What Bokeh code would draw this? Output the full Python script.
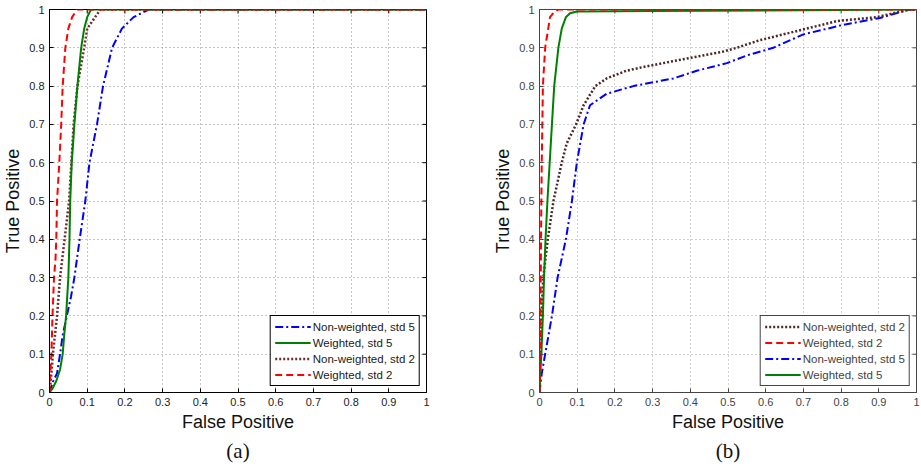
import math
from bokeh.plotting import figure
from bokeh.models import Range1d, FixedTicker, Legend, LegendItem
from bokeh.layouts import row
from bokeh.embed import file_html
from bokeh.resources import INLINE

tick_values = [0, 0.1, 0.2, 0.3, 0.4, 0.5, 0.6, 0.7, 0.8, 0.9, 1.0]
tick_labels = ["0", "0.1", "0.2", "0.3", "0.4", "0.5", "0.6", "0.7", "0.8", "0.9", "1"]

x_title = "False Positive"
y_title = "True Positive"

label_nw5 = "Non-weighted, std 5"
label_w5 = "Weighted, std 5"
label_nw2 = "Non-weighted, std 2"
label_w2 = "Weighted, std 2"

# ---- panel (a) ----
a_w2_fp = [0, 0.002, 0.005, 0.008, 0.012, 0.016, 0.018, 0.020, 0.026, 0.031, 0.035, 0.042, 0.050, 0.060, 0.073, 1.0]
a_w2_tp = [0, 0.05, 0.10, 0.20, 0.30, 0.35, 0.40, 0.50, 0.60, 0.70, 0.80, 0.90, 0.95, 0.98, 1.0, 1.0]

a_w5_fp = [0, 0.008, 0.018, 0.028, 0.035, 0.039, 0.044, 0.050, 0.053, 0.055, 0.059, 0.066, 0.074, 0.084, 0.092, 0.100, 0.110, 1.0]
a_w5_tp = [0, 0.01, 0.03, 0.06, 0.10, 0.15, 0.20, 0.30, 0.40, 0.50, 0.60, 0.70, 0.80, 0.90, 0.95, 0.98, 1.0, 1.0]

a_nw2_fp = [0, 0.003, 0.006, 0.009, 0.020, 0.028, 0.040, 0.052, 0.058, 0.064, 0.074, 0.092, 0.100, 0.121, 0.135, 1.0]
a_nw2_tp = [0, 0.03, 0.06, 0.10, 0.20, 0.30, 0.40, 0.50, 0.60, 0.70, 0.80, 0.90, 0.95, 0.98, 1.0, 1.0]

a_nw5_fp = [0, 0.010, 0.020, 0.028, 0.035, 0.046, 0.057, 0.066, 0.080, 0.095, 0.106, 0.126, 0.142, 0.166, 0.192, 0.223, 0.263, 1.0]
a_nw5_tp = [0, 0.03, 0.05, 0.10, 0.15, 0.20, 0.25, 0.30, 0.40, 0.50, 0.60, 0.70, 0.80, 0.90, 0.95, 0.98, 1.0, 1.0]

# ---- panel (b) ----
b_w2_fp = [0, 0.002, 0.003, 0.004, 0.006, 0.009, 0.015, 0.028, 0.040, 0.050, 0.10, 1.0]
b_w2_tp = [0, 0.10, 0.25, 0.40, 0.60, 0.80, 0.90, 0.98, 0.995, 1.0, 1.0, 1.0]

b_w5_fp = [0, 0.002, 0.005, 0.009, 0.012, 0.016, 0.021, 0.027, 0.033, 0.039, 0.050, 0.059, 0.070, 0.081, 0.099, 0.30, 0.70, 1.0]
b_w5_tp = [0, 0.05, 0.10, 0.20, 0.30, 0.40, 0.50, 0.60, 0.70, 0.80, 0.90, 0.95, 0.98, 0.99, 0.995, 0.996, 0.998, 1.0]

b_nw2_fp = [0, 0.001, 0.002, 0.005, 0.010, 0.022, 0.037, 0.048, 0.059, 0.072, 0.097, 0.117, 0.148, 0.178, 0.230, 0.276, 0.380, 0.487, 0.523, 0.585, 0.708, 0.790, 0.894, 0.982, 1.0]
b_nw2_tp = [0, 0.05, 0.10, 0.20, 0.30, 0.40, 0.50, 0.55, 0.60, 0.65, 0.70, 0.75, 0.80, 0.82, 0.84, 0.85, 0.87, 0.89, 0.90, 0.92, 0.95, 0.97, 0.98, 1.0, 1.0]

b_nw5_fp = [0, 0.006, 0.015, 0.033, 0.048, 0.070, 0.086, 0.099, 0.117, 0.134, 0.178, 0.249, 0.355, 0.417, 0.497, 0.550, 0.620, 0.700, 0.806, 0.903, 0.982, 1.0]
b_nw5_tp = [0, 0.05, 0.10, 0.20, 0.30, 0.40, 0.50, 0.60, 0.70, 0.75, 0.78, 0.80, 0.82, 0.84, 0.86, 0.88, 0.90, 0.935, 0.96, 0.978, 1.0, 1.0]

SANS = "Liberation Sans"


def make_panel(caption, width, border_left, border_right, series, order, frame_color, grid_color,
               text_color, dotted_color):
    p = figure(width=width, height=471, output_backend="svg", toolbar_location=None,
               x_range=Range1d(0, 1), y_range=Range1d(0, 1),
               min_border_left=border_left, min_border_right=border_right,
               min_border_top=9, min_border_bottom=79,
               title=caption, title_location="below")
    p.title.align = "center"
    p.title.text_font = "Liberation Serif"
    p.title.text_font_size = "21px"
    p.title.text_font_style = "normal"
    p.title.text_color = "#111111"
    p.title.standoff = 5

    p.outline_line_color = frame_color
    p.outline_line_width = 1
    p.outline_line_alpha = 1
    p.background_fill_color = "white"
    p.border_fill_color = "white"

    for ax, ttl in ((p.xaxis[0], x_title), (p.yaxis[0], y_title)):
        ax.ticker = FixedTicker(ticks=tick_values)
        ax.major_label_overrides = {v: s for v, s in zip(tick_values, tick_labels)}
        ax.axis_label = ttl
        ax.axis_label_text_font = SANS
        ax.axis_label_text_font_size = "18px"
        ax.axis_label_text_font_style = "normal"
        ax.axis_label_text_color = "#111111"
        ax.axis_label_standoff = 3
        ax.major_label_text_font = SANS
        ax.major_label_text_font_size = "11px"
        ax.major_label_text_color = text_color
        ax.major_label_standoff = 5
        ax.major_tick_in = 4
        ax.major_tick_out = 0
        ax.minor_tick_line_color = None
        ax.axis_line_color = frame_color
        ax.major_tick_line_color = frame_color

    # mirrored inward ticks on the top and right edges of the box
    n = len(tick_values)
    p.ray(x=tick_values, y=[1.0] * n, length=4, length_units="screen",
          angle=-math.pi / 2, line_color=frame_color, line_width=1)
    p.ray(x=[1.0] * n, y=tick_values, length=4, length_units="screen",
          angle=math.pi, line_color=frame_color, line_width=1)

    for g in (p.xgrid[0], p.ygrid[0]):
        g.ticker = FixedTicker(ticks=tick_values)
        g.grid_line_color = grid_color
        g.grid_line_dash = "1 3"
        g.grid_line_width = 1

    styles = {
        "nw5": dict(line_color="#0000ff", line_dash="8 3 2 3", line_width=2),
        "w5": dict(line_color="#008000", line_width=2),
        "nw2": dict(line_color=dotted_color, line_dash="2 2", line_width=2.5),
        "w2": dict(line_color="#ff0000", line_dash="7 4", line_width=2),
    }
    renderers = {}
    for key in ("nw5", "nw2", "w5", "w2"):
        fp, tp, lab = series[key]
        renderers[key] = p.line(fp, tp, **styles[key])

    legend = Legend(items=[LegendItem(label=series[k][2], renderers=[renderers[k]]) for k in order],
                    location="bottom_right")
    legend.margin = 6
    legend.padding = 4
    legend.spacing = 3
    legend.label_height = 13
    legend.glyph_height = 13
    legend.glyph_width = 36
    legend.label_standoff = 2
    legend.label_text_font = SANS
    legend.label_text_font_size = "11.5px"
    legend.label_text_color = text_color
    legend.border_line_color = frame_color
    legend.border_line_width = 1
    legend.border_line_alpha = 1
    legend.background_fill_alpha = 1
    p.add_layout(legend)
    return p


series_a = {
    "nw5": (a_nw5_fp, a_nw5_tp, label_nw5),
    "w5": (a_w5_fp, a_w5_tp, label_w5),
    "nw2": (a_nw2_fp, a_nw2_tp, label_nw2),
    "w2": (a_w2_fp, a_w2_tp, label_w2),
}
series_b = {
    "nw5": (b_nw5_fp, b_nw5_tp, label_nw5),
    "w5": (b_w5_fp, b_w5_tp, label_w5),
    "nw2": (b_nw2_fp, b_nw2_tp, label_nw2),
    "w2": (b_w2_fp, b_w2_tp, label_w2),
}

pa = make_panel("(a)", 450, 49, 24, series_a, ["nw5", "w5", "nw2", "w2"],
                "#000000", "#8a8a8a", "#222222", "#6e2b2b")
pb = make_panel("(b)", 471, 89, 5, series_b, ["nw2", "w2", "nw5", "w5"],
                "#444444", "#a0a0a0", "#444444", "#4d2626")

layout = row(pa, pb)

open("out.html", "w").write(file_html(layout, INLINE))
